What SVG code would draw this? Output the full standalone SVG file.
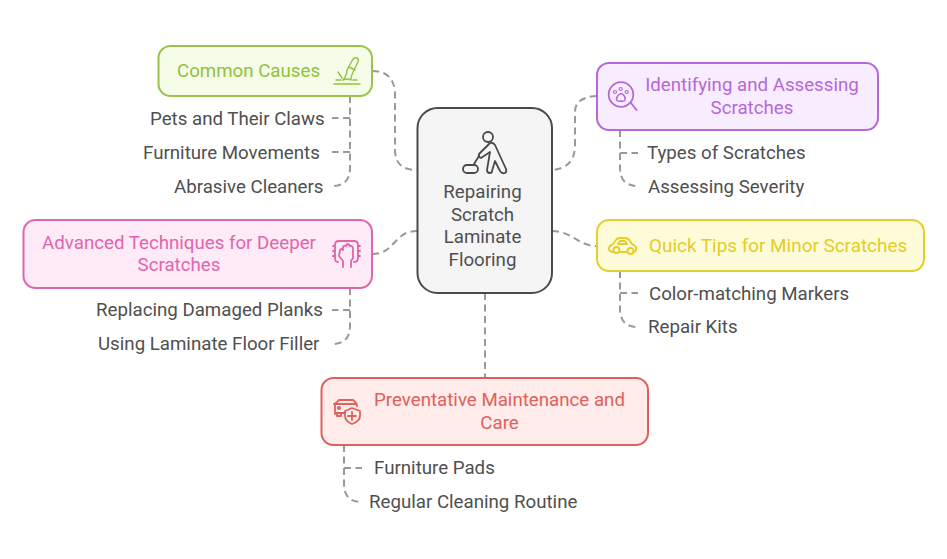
<svg xmlns="http://www.w3.org/2000/svg" width="947" height="559" viewBox="0 0 947 559">
<style>
text{font-family:Roboto,"Liberation Sans",sans-serif;font-size:18.7px}
.t{fill:#4f4f4f}
.m{text-anchor:middle}
.c{fill:none;stroke:#999;stroke-width:2;stroke-dasharray:7 4.5}
.b{stroke-width:2}
.i{fill:none;stroke-width:1.8;stroke-linecap:round;stroke-linejoin:round}
</style>
<rect width="947" height="559" fill="#fff"/>
<g id="connectors">
<path class="c" d="M372 71Q395 71 395 95V150Q395 170 417 170"/>
<path class="c" d="M597 96Q575 97 575 112V145Q575 168 552 170"/>
<path class="c" d="M552 231C572 231 578 246 597 246"/>
<path class="c" d="M372 254C396 254 393 231 417 231"/>
<path class="c" d="M485 293V378"/>
<path class="c" d="M350 96V168Q350 186 332 186"/>
<path class="c" d="M350 118H332"/>
<path class="c" d="M350 152H332"/>
<path class="c" d="M620 130V168Q620 186 638 186"/>
<path class="c" d="M620 153H638"/>
<path class="c" d="M620 271V309Q620 327 638 327"/>
<path class="c" d="M620 293H638"/>
<path class="c" d="M350 288V326Q350 344 332 344"/>
<path class="c" d="M350 310H332"/>
<path class="c" d="M344 445V484Q344 502 362 502"/>
<path class="c" d="M344 468H362"/>
</g>
<g id="center">
<rect class="b" x="417.500" y="108" width="134.500" height="185" rx="20" fill="#f5f5f5" stroke="#4a4a4a"/>
<g class="i" stroke="#4a4a4a">
<circle cx="488" cy="137" r="5"/>
<path d="M490 152L487 170Q487 173 490 173Q492 173 492 171L495 161L500 171Q502 174 505 173Q507 172 506 169L495 145Q493 142 490 143L479 154Q478 157 481 158Z"/>
<path d="M479 156L474 164"/>
<rect x="463" y="165" width="15" height="8" rx="4"/>
</g>
<text class="t m" x="482.500" y="198">Repairing</text>
<text class="t m" x="482.500" y="221">Scratch</text>
<text class="t m" x="482.500" y="243">Laminate</text>
<text class="t m" x="482.500" y="266">Flooring</text>
</g>
<g id="common-causes">
<rect class="b" x="158.500" y="46" width="213.500" height="50" rx="12" fill="#f5fde8" stroke="#9ac34a"/>
<text x="177" y="77" fill="#92c13e">Common Causes</text>
<g class="i" stroke="#92c13e" style="stroke-width:1.4">
<path d="M334 84H360"/>
<path d="M343 80Q347 75 347 70L353 59Q355 57 357 58Q359 59 358 62L353 72Q351 76 351 80Q347 78 343 80Z"/>
<path d="M349 67L355 70M338 72L342 78M336 80H341M353 80H357"/>
</g>
</g>
<g id="pets"><text class="t" x="150" y="125">Pets and Their Claws</text></g>
<g id="furniture-movements"><text class="t" x="143" y="159">Furniture Movements</text></g>
<g id="abrasive"><text class="t" x="174" y="193">Abrasive Cleaners</text></g>
<g id="identifying">
<rect class="b" x="597" y="63" width="281" height="67" rx="12" fill="#f8edff" stroke="#b767d8"/>
<text class="m" x="752" y="91" fill="#b767d8">Identifying and Assessing</text>
<text class="m" x="752" y="114" fill="#b767d8">Scratches</text>
<g class="i" stroke="#b767d8">
<circle cx="621" cy="94.500" r="12.300"/>
<path d="M631 103L636.500 110"/>
<path d="M616.500 100Q616 97 619 94.500Q621 93 623 94.500Q626 97 625 100Q624 102 621 101Q617.500 102 616.500 100Z" stroke-width="1.500"/>
<circle cx="615" cy="92" r="1.500" stroke-width="1.200"/><circle cx="620.700" cy="89" r="1.500" stroke-width="1.200"/><circle cx="626.700" cy="92" r="1.500" stroke-width="1.200"/>
</g>
</g>
<g id="types"><text class="t" x="647" y="159">Types of Scratches</text></g>
<g id="severity"><text class="t" x="648" y="193">Assessing Severity</text></g>
<g id="quick-tips">
<rect class="b" x="597" y="220" width="327" height="51" rx="12" fill="#fefbd8" stroke="#e2d02e"/>
<text x="649" y="252" fill="#e2cd2a" style="font-size:18.9px">Quick Tips for Minor Scratches</text>
<g class="i" stroke="#e2cd2a">
<path d="M613 252Q608 251 609 248Q610 245 612 245L616 240Q617 238 620 238H625Q628 238 630 241L632 244L635 246Q637 248 636 250Q635 252 634 252M620 252H627"/>
<circle cx="616.500" cy="250" r="3"/><circle cx="630.500" cy="251" r="3"/>
<path d="M618 244L620 241H625L627 244Z"/>
</g>
</g>
<g id="markers"><text class="t" x="649" y="300">Color-matching Markers</text></g>
<g id="repair-kits"><text class="t" x="648" y="333">Repair Kits</text></g>
<g id="advanced">
<rect class="b" x="23.500" y="220" width="348.500" height="68" rx="12" fill="#ffeaf7" stroke="#df65ad"/>
<text class="m" x="179" y="249" fill="#df65ad">Advanced Techniques for Deeper</text>
<text class="m" x="179" y="271" fill="#df65ad">Scratches</text>
<g class="i" stroke="#df65ad">
<path d="M338 262Q335 262 335 258V245Q335 241 339 241H354Q358 241 358 245V258Q358 262 354 262"/>
<path d="M343 267V261L339 256L340 250Q342 248 343 250V247Q344 245 346 246L347 244Q349 244 350 246Q352 245 353 248V258L351 261V267"/>
<path d="M333 246H335M333 251H335M333 256H335M358 246H360M358 251H360M358 256H360"/>
</g>
</g>
<g id="planks"><text class="t" x="96" y="316">Replacing Damaged Planks</text></g>
<g id="filler"><text class="t" x="98" y="350">Using Laminate Floor Filler</text></g>
<g id="preventative">
<rect class="b" x="321.500" y="378" width="326.500" height="67" rx="12" fill="#ffeceb" stroke="#e1605a"/>
<text class="m" x="499.500" y="406" fill="#e1605a">Preventative Maintenance and</text>
<text class="m" x="499.500" y="429" fill="#e1605a">Care</text>
<g class="i" stroke="#e1605a">
<path d="M335 414V405Q335 403 337 402L339 400H353L356 403Q357 404 357 406M334 404H356M335 413H345"/>
<path d="M337 414V416H341V414"/>
<circle cx="339" cy="408" r="1.200"/>
<path d="M352 408L360 411V416Q360 421 352 424Q345 421 345 416V411Z"/>
<path d="M352 412V420M348 416H356"/>
</g>
</g>
<g id="pads"><text class="t" x="374" y="474">Furniture Pads</text></g>
<g id="routine"><text class="t" x="369" y="508">Regular Cleaning Routine</text></g>
</svg>
